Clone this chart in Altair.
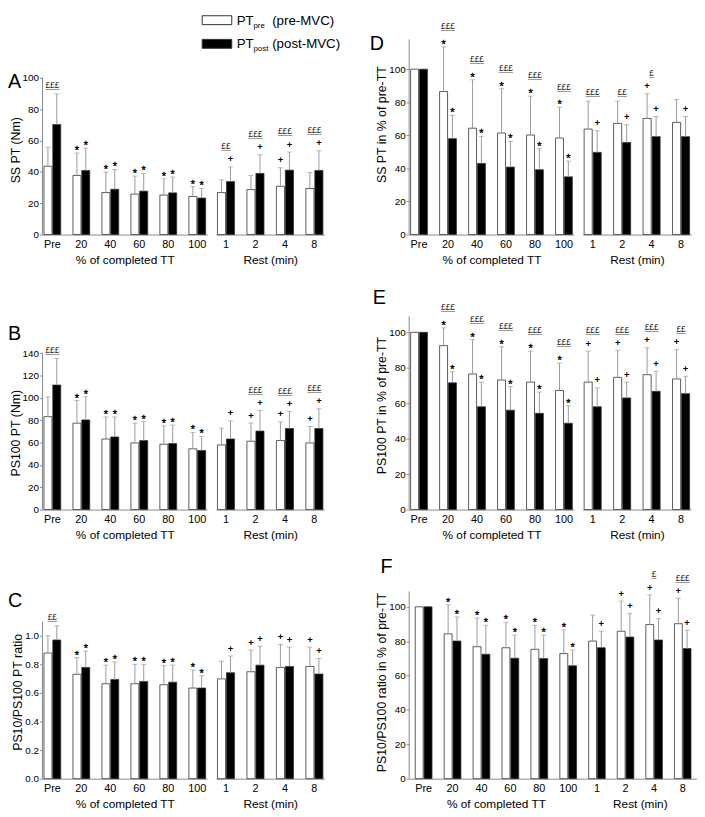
import altair as alt
import pandas as pd

FONT = "Liberation Sans"
GRAY = "#8a8a8a"
ERR_GRAY = "#9a9a9a"

CATS_TT = ["Pre", "20", "40", "60", "80", "100"]
CATS_REST = ["1", "2", "4", "8"]
CATS = CATS_TT + CATS_REST
SERIES = ["pre", "post"]

# ---------------- Panel A : SS PT (Nm)
A_PRE = [43.6, 37.7, 26.8, 25.8, 25.2, 24.3, 26.8, 28.7, 30.8, 29.4]
A_PRE_SD = [12.0, 14.3, 13.0, 11.5, 10.4, 6.3, 8.2, 9.0, 11.8, 10.2]
A_POST = [70.2, 40.9, 28.9, 27.7, 26.6, 23.3, 33.8, 39.0, 41.1, 40.9]
A_POST_SD = [19.5, 14.2, 12.6, 11.3, 10.1, 6.1, 9.4, 11.9, 11.5, 12.6]
A_PRE_SIG = ["", "*", "*", "*", "*", "*", "", "", "+", ""]
A_POST_SIG = ["", "*", "*", "*", "*", "*", "+", "+", "+", "+"]
A_PAIR_SIG = ["£££", "", "", "", "", "", "££", "£££", "£££", "£££"]

# ---------------- Panel B : PS100 PT (Nm)
B_PRE = [83.2, 77.4, 63.2, 59.7, 58.5, 54.4, 57.9, 61.2, 61.8, 59.7]
B_PRE_SD = [17.7, 20.2, 19.7, 17.7, 16.5, 14.7, 15.0, 16.2, 16.7, 14.7]
B_POST = [111.5, 80.3, 65.0, 61.8, 59.1, 52.9, 63.2, 70.3, 72.6, 72.6]
B_POST_SD = [23.8, 20.6, 17.9, 17.0, 16.5, 12.7, 16.2, 18.5, 15.3, 17.7]
B_PRE_SIG = ["", "*", "*", "*", "*", "*", "", "+", "+", "+"]
B_POST_SIG = ["", "*", "*", "*", "*", "*", "+", "+", "+", "+"]
B_PAIR_SIG = ["£££", "", "", "", "", "", "", "£££", "£££", "£££"]

# ---------------- Panel C : PS10/PS100 PT ratio
C_PRE = [0.879, 0.730, 0.664, 0.664, 0.657, 0.634, 0.698, 0.748, 0.778, 0.785]
C_PRE_SD = [0.121, 0.117, 0.130, 0.136, 0.133, 0.126, 0.123, 0.152, 0.160, 0.135]
C_POST = [0.970, 0.778, 0.693, 0.680, 0.675, 0.634, 0.741, 0.794, 0.785, 0.732]
C_POST_SD = [0.099, 0.114, 0.124, 0.119, 0.119, 0.086, 0.117, 0.133, 0.135, 0.108]
C_PRE_SIG = ["", "*", "*", "*", "*", "*", "", "+", "+", "+"]
C_POST_SIG = ["", "*", "*", "*", "*", "*", "+", "+", "+", "+"]
C_PAIR_SIG = ["££", "", "", "", "", "", "", "", "", ""]

# ---------------- Panel D : SS PT in % of pre-TT
D_PRE = [100, 86.5, 64.3, 61.4, 60.2, 58.4, 63.8, 67.2, 70.2, 67.8]
D_PRE_SD = [None, 27.0, 29.3, 26.8, 23.5, 18.5, 16.9, 13.5, 14.9, 13.9]
D_POST = [100, 58.0, 43.0, 40.8, 39.2, 34.9, 49.7, 55.7, 59.2, 59.2]
D_POST_SD = [None, 14.1, 16.4, 15.6, 12.8, 9.5, 13.1, 10.7, 12.2, 12.2]
D_PRE_SIG = ["", "*", "*", "*", "*", "*", "", "", "+", ""]
D_POST_SIG = ["", "*", "*", "*", "*", "*", "+", "+", "+", "+"]
D_PAIR_SIG = ["", "£££", "£££", "£££", "£££", "£££", "£££", "££", "£", ""]

# ---------------- Panel E : PS100 PT in % of pre-TT
E_PRE = [100, 92.5, 76.5, 73.1, 71.9, 67.2, 71.9, 74.6, 76.1, 73.7]
E_PRE_SD = [None, 10.0, 19.4, 18.8, 17.5, 15.4, 17.5, 15.2, 15.2, 16.5]
E_POST = [100, 71.5, 58.0, 56.1, 54.3, 48.7, 58.0, 63.0, 66.7, 65.4]
E_POST_SD = [None, 6.3, 13.9, 13.3, 12.0, 9.8, 10.7, 8.9, 11.3, 9.8]
E_PRE_SIG = ["", "*", "*", "*", "*", "*", "+", "+", "+", "+"]
E_POST_SIG = ["", "*", "*", "*", "*", "*", "+", "+", "+", "+"]
E_PAIR_SIG = ["", "£££", "£££", "£££", "£££", "£££", "£££", "£££", "£££", "££"]

# ---------------- Panel F : PS10/PS100 ratio in % of pre-TT
F_PRE = [100, 84.3, 76.8, 76.2, 75.3, 72.8, 80.1, 85.8, 89.7, 90.2]
F_PRE_SD = [None, 16.8, 16.7, 14.8, 14.0, 13.8, 15.1, 17.6, 17.2, 14.8]
F_POST = [100, 80.1, 72.4, 70.1, 69.9, 65.7, 76.2, 82.4, 80.7, 75.7]
F_POST_SD = [None, 14.0, 16.9, 13.4, 13.6, 9.2, 9.6, 13.8, 12.4, 10.7]
F_PRE_SIG = ["", "*", "*", "*", "*", "*", "", "+", "+", "+"]
F_POST_SIG = ["", "*", "*", "*", "*", "*", "+", "+", "+", "+"]
F_PAIR_SIG = ["", "", "", "", "", "", "", "", "£", "£££"]

Y_TICKS_NM_A = [0, 20, 40, 60, 80, 100]
Y_TICKS_NM_B = [0, 20, 40, 60, 80, 100, 120, 140]
Y_TICKS_RATIO = [0.0, 0.2, 0.4, 0.6, 0.8, 1.0]
Y_TICKS_PCT = [0, 20, 40, 60, 80, 100]

LEGEND_LABELS = [("pre", "(pre-MVC)"), ("post", "(post-MVC)")]

# ---------------- layout constants
W_TT, W_REST, GAP, SPACER_W = 167, 110, 9, 68
ROW_H = [198, 196, 190]
ROW_SP = 83

ONE = pd.DataFrame({"k": [0]})


def build_frames(pre, pre_sd, post, post_sd, pre_sig, post_sig, pair_sig):
    rows = []
    for i, c in enumerate(CATS):
        for s, m, sd, sig in (("pre", pre[i], pre_sd[i], pre_sig[i]),
                              ("post", post[i], post_sd[i], post_sig[i])):
            top = m + sd if sd is not None else m
            rows.append(dict(cat=c, series=s, mean=m, top=top,
                             has_err=sd is not None, sig=sig))
    bars = pd.DataFrame(rows)
    pairs = []
    for i, c in enumerate(CATS):
        if not pair_sig[i]:
            continue
        sub = bars[bars["cat"] == c]
        j = sub["top"].idxmax()
        pairs.append(dict(cat=c, ytop=float(sub["top"].max()), txt=pair_sig[i],
                          ul="_" * len(pair_sig[i]),
                          stacked=bool(sub.loc[j, "sig"] != "")))
    pairs = pd.DataFrame(pairs, columns=["cat", "ytop", "txt", "ul", "stacked"])
    return bars, pairs


def txt(x, y, s, size, align="left", baseline="middle", color="black"):
    return alt.Chart(ONE).mark_text(text=s, fontSize=size, align=align, baseline=baseline,
                                    font=FONT, color=color).encode(
        x=alt.value(x), y=alt.value(y))


def sub_chart(p, cats, xtitle, width, height, first, xrange=None, po=0.05, legend=False):
    bars = p["bars"][p["bars"]["cat"].isin(cats)]
    pairs = p["pairs"][p["pairs"]["cat"].isin(cats)]
    sc = dict(domain=cats, paddingInner=0.42, paddingOuter=po)
    if xrange is not None:
        sc["range"] = xrange
    X = alt.X("cat:N", scale=alt.Scale(**sc),
              axis=alt.Axis(title=xtitle, labelAngle=0, ticks=False, domainColor=GRAY,
                            domainWidth=1, labelFontSize=11, labelPadding=4,
                            titleFontSize=12, titlePadding=5, labelColor="black",
                            titleColor="black", titleFontWeight="normal"))
    XO = alt.XOffset("series:N", scale=alt.Scale(domain=SERIES, paddingInner=0.1))
    yscale = alt.Scale(domain=[0, p["dom_top"]], nice=False, zero=True)
    if first:
        yaxis = alt.Axis(title=p["ytitle"], values=p["ticks"], format=p["fmt"], domain=False,
                         tickSize=3, tickColor=GRAY, labelFontSize=10, labelPadding=1,
                         titleFontSize=12.5, titlePadding=0, titleY=p["title_y"], grid=False,
                         labelColor="black", titleColor="black", titleFontWeight="normal")
    else:
        yaxis = None

    def Y(field):
        return alt.Y(f"{field}:Q", scale=yscale, axis=yaxis)

    color = alt.Color("series:N", scale=alt.Scale(domain=SERIES, range=["white", "black"]),
                      legend=None)
    layers = []
    if first:
        axdf = pd.DataFrame({"y0": [0], "y1": [p["axis_top"]]})
        layers.append(alt.Chart(axdf).mark_rule(color=GRAY, strokeWidth=1).encode(
            x=alt.value(0), y=Y("y0"), y2="y1:Q"))
    layers.append(alt.Chart(bars).mark_bar(stroke="#333333", strokeWidth=0.8).encode(
        x=X, xOffset=XO, y=Y("mean"), color=color))
    err = bars[bars["has_err"]]
    if len(err):
        layers.append(alt.Chart(err).mark_rule(color=ERR_GRAY, strokeWidth=1).encode(
            x=X, xOffset=XO, y=Y("mean"), y2="top:Q"))
        layers.append(alt.Chart(err).mark_tick(color=ERR_GRAY, size=5, thickness=1).encode(
            x=X, xOffset=XO, y=Y("top")))
    stars = bars[bars["sig"] == "*"]
    if len(stars):
        layers.append(alt.Chart(stars).mark_text(fontSize=11, baseline="bottom", dy=3,
                                                 font=FONT, fill="black", stroke="black",
                                                 strokeWidth=0.35).encode(
            x=X, xOffset=XO, y=Y("top"), text="sig:N"))
    plus = bars[bars["sig"] == "+"]
    if len(plus):
        layers.append(alt.Chart(plus).mark_text(fontSize=9.5, baseline="bottom", dy=-2.5,
                                                font=FONT, fontWeight="bold",
                                                color="black").encode(
            x=X, xOffset=XO, y=Y("top"), text="sig:N"))
    for stacked, dy in ((True, -16), (False, -4)):
        pp = pairs[pairs["stacked"] == stacked]
        if len(pp):
            for fld, col in (("txt", "#222222"), ("ul", "#666666")):
                layers.append(alt.Chart(pp).mark_text(fontSize=8.5, baseline="bottom", dy=dy,
                                                      font=FONT, color=col).encode(
                    x=X, y=Y("ytop"), text=f"{fld}:N"))
    if first:
        lx, ly = p["letter_pos"]
        layers.append(txt(lx, ly, p["letter"], 20))
    if legend:
        for (sub, lab), cy, fill in zip(LEGEND_LABELS, (-19, 5), ("white", "black")):
            layers.append(alt.Chart(ONE).mark_rect(fill=fill, stroke="#333333", strokeWidth=1).encode(
                x=alt.value(162), x2=alt.value(192), y=alt.value(cy - 5), y2=alt.value(cy + 4)))
            layers.append(txt(197, cy, "PT", 13.5))
            layers.append(txt(214, cy + 5, sub, 8))
            layers.append(txt(233, cy, lab, 13.5))
    return alt.layer(*layers).properties(width=width, height=height)


def make_panel(letter, data, ytitle, dom_top, axis_top, ticks, fmt, letter_pos, title_y):
    bars, pairs = build_frames(*data)
    return dict(letter=letter, bars=bars, pairs=pairs, ytitle=ytitle, dom_top=dom_top,
                axis_top=axis_top, ticks=ticks, fmt=fmt, letter_pos=letter_pos,
                title_y=title_y)


PA = make_panel("A", (A_PRE, A_PRE_SD, A_POST, A_POST_SD, A_PRE_SIG, A_POST_SIG, A_PAIR_SIG),
                "SS PT (Nm)", 124.5, 100, Y_TICKS_NM_A, "d", (-35, 43), 112)
PB = make_panel("B", (B_PRE, B_PRE_SD, B_POST, B_POST_SD, B_PRE_SIG, B_POST_SIG, B_PAIR_SIG),
                "PS100 PT (Nm)", 173, 140, Y_TICKS_NM_B, "d", (-35, 18), 118)
PC = make_panel("C", (C_PRE, C_PRE_SD, C_POST, C_POST_SD, C_PRE_SIG, C_POST_SIG, C_PAIR_SIG),
                "PS10/PS100 PT ratio", 1.31, 1.1, Y_TICKS_RATIO, ".1f", (-35, 10), 102)
PD = make_panel("D", (D_PRE, D_PRE_SD, D_POST, D_POST_SD, D_PRE_SIG, D_POST_SIG, D_PAIR_SIG),
                "SS PT in % of pre-TT", 118, 118, Y_TICKS_PCT, "d", (-40, 5), 86)
PE = make_panel("E", (E_PRE, E_PRE_SD, E_POST, E_POST_SD, E_PRE_SIG, E_POST_SIG, E_PAIR_SIG),
                "PS100 PT in % of pre-TT", 109, 109, Y_TICKS_PCT, "d", (-37, -19), 90)
PF = make_panel("F", (F_PRE, F_PRE_SD, F_POST, F_POST_SD, F_PRE_SIG, F_POST_SIG, F_PAIR_SIG),
                "PS10/PS100 ratio in % of pre-TT", 109, 109, Y_TICKS_PCT, "d", (-29, -25), 92)

X_TT = "% of completed TT"
X_REST = "Rest (min)"


def spacer(h):
    return alt.Chart(ONE).mark_point(opacity=0).encode(
        x=alt.value(0), y=alt.value(0)).properties(width=SPACER_W, height=h)


cells = []
for r, (pl, pr) in enumerate(((PA, PD), (PB, PE), (PC, PF))):
    h = ROW_H[r]
    cells.append(sub_chart(pl, CATS_TT, X_TT, W_TT, h, True, legend=(r == 0)))
    cells.append(sub_chart(pl, CATS_REST, X_REST, W_REST, h, False))
    cells.append(spacer(h))
    if r < 2:
        cells.append(sub_chart(pr, CATS_TT, X_TT, W_TT, h, True))
        cells.append(sub_chart(pr, CATS_REST, X_REST, W_REST, h, False))
    else:
        cells.append(sub_chart(pr, CATS_TT, X_TT, W_TT, h, True, xrange=[0, 176], po=0.21))
        cells.append(sub_chart(pr, CATS_REST, X_REST, W_REST, h, False, xrange=[0, 116], po=0.21))

chart = alt.concat(*cells, columns=5, spacing={"row": ROW_SP, "column": GAP},
                   bounds="flush", align="each").resolve_scale(
    x="independent", y="independent", xOffset="independent").properties(
    padding={"top": 0, "left": 0, "right": 0, "bottom": 0},
    background="white").configure_view(stroke=None).configure_axis(
    labelFont=FONT, titleFont=FONT).configure_text(font=FONT)

chart.save("out.html", embed_options={"renderer": "svg", "actions": False})
